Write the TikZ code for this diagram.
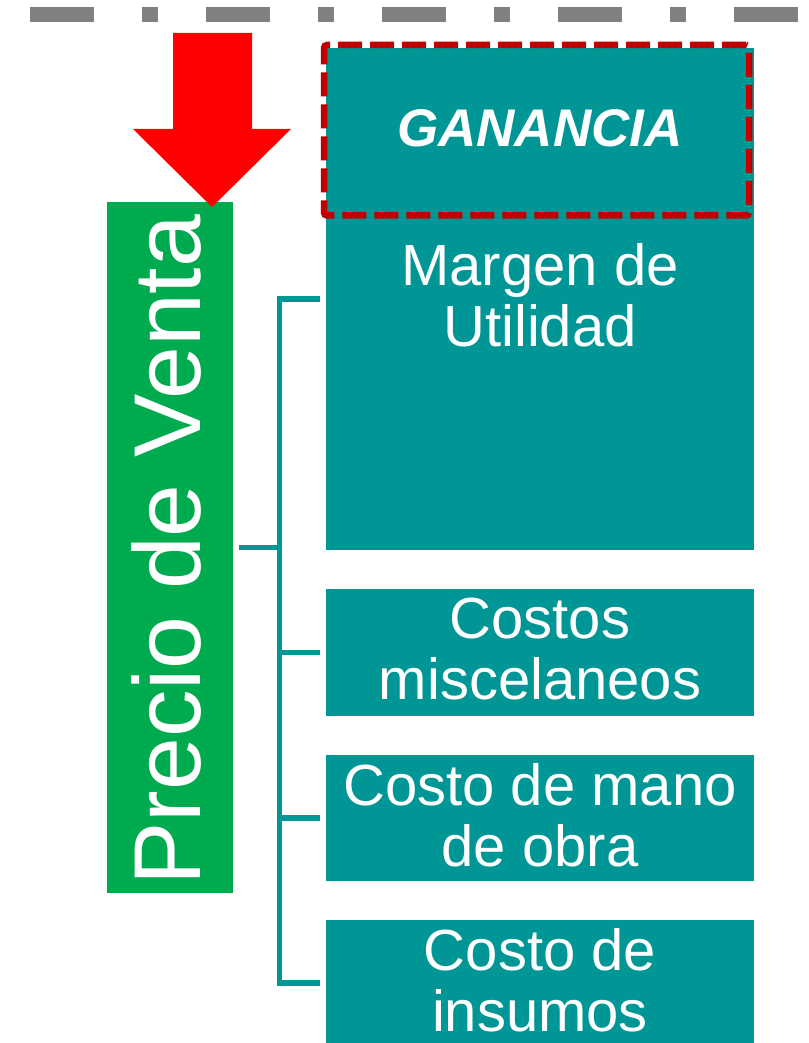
\documentclass[tikz,border=0pt]{standalone}
\usepackage{fontspec}
\setmainfont{Liberation Sans}
\definecolor{tealbox}{RGB}{0,150,150}
\definecolor{greenbox}{RGB}{0,170,78}
\definecolor{darkred}{RGB}{192,0,0}
\definecolor{dashgray}{RGB}{128,128,128}
\tikzset{
  boxteal/.style={fill=tealbox, draw=none, inner sep=0pt, minimum width=428pt},
  boxtext/.style={text=white, align=center, inner sep=0pt, anchor=base,
    font=\fontsize{58}{61}\selectfont},
  bracketline/.style={draw=tealbox, line width=5.5pt},
  gbox/.style={draw=darkred, line width=6.5pt, dash pattern=on 24pt off 8pt,
    rounded corners=3pt, inner sep=0pt, minimum width=425pt, minimum height=170.5pt},
  topline/.style={draw=dashgray, line width=15pt, dash pattern=on 64pt off 48pt on 16pt off 48pt},
}
\begin{document}
\begin{tikzpicture}[x=1pt,y=1pt]
\useasboundingbox (0,0) rectangle (808,1043);
% top dashed line
\coordinate (tl) at (30,1028.5);
\coordinate (tr) at (798,1028.5);
\draw[topline] (tl) -- (tr);
% teal boxes
\node[boxteal, minimum height=502pt] (margen) at (540,744) {};
\node[boxteal, minimum height=127pt] (misc) at (540,390.5) {};
\node[boxteal, minimum height=126pt] (mano) at (540,225) {};
\node[boxteal, minimum height=126pt] (insumos) at (540,60) {};
% ganancia dashed box
\node[gbox] (ganancia) at (536.5,912.75) {};
\node[text=white, inner sep=0pt, anchor=base, font=\fontsize{53}{60}\selectfont\bfseries\itshape] (gantext) at (540,896) {GANANCIA};
% texts (anchor = baseline of last line)
\node[boxtext] (tmargen) at (540,696.3) {Margen de\\Utilidad};
\node[boxtext] (tmisc) at (540,343) {Costos\\miscelaneos};
\node[boxtext] (tmano) at (540,176.3) {Costo de mano\\de obra};
\node[boxtext] (tinsumos) at (540,12) {Costo de\\insumos};
% green box
\node[fill=greenbox, inner sep=0pt, minimum width=126.6pt, minimum height=691pt] (precio) at (170,495.5) {};
\node[rotate=90, anchor=base west, inner sep=0pt, text=white, font=\fontsize{95}{100}\selectfont] (ptext) at (200,157.3) {Precio de Venta};
% red arrow
\fill[red] (173,1010) -- (252,1010) -- (252,914) -- (291,914) -- (212,836) -- (133,914) -- (173,914) -- cycle;
% bracket
\coordinate (spine) at (279.5,0);
\draw[bracketline] ([xshift=-6pt]margen.west) -| (spine |- insumos.west) -- ([xshift=-6pt]insumos.west);
\draw[bracketline] (spine |- misc.west) -- ([xshift=-6pt]misc.west);
\draw[bracketline] (spine |- mano.west) -- ([xshift=-6pt]mano.west);
\draw[bracketline] ([xshift=5pt]precio.east) -- (spine |- precio.east);
\end{tikzpicture}
\end{document}
